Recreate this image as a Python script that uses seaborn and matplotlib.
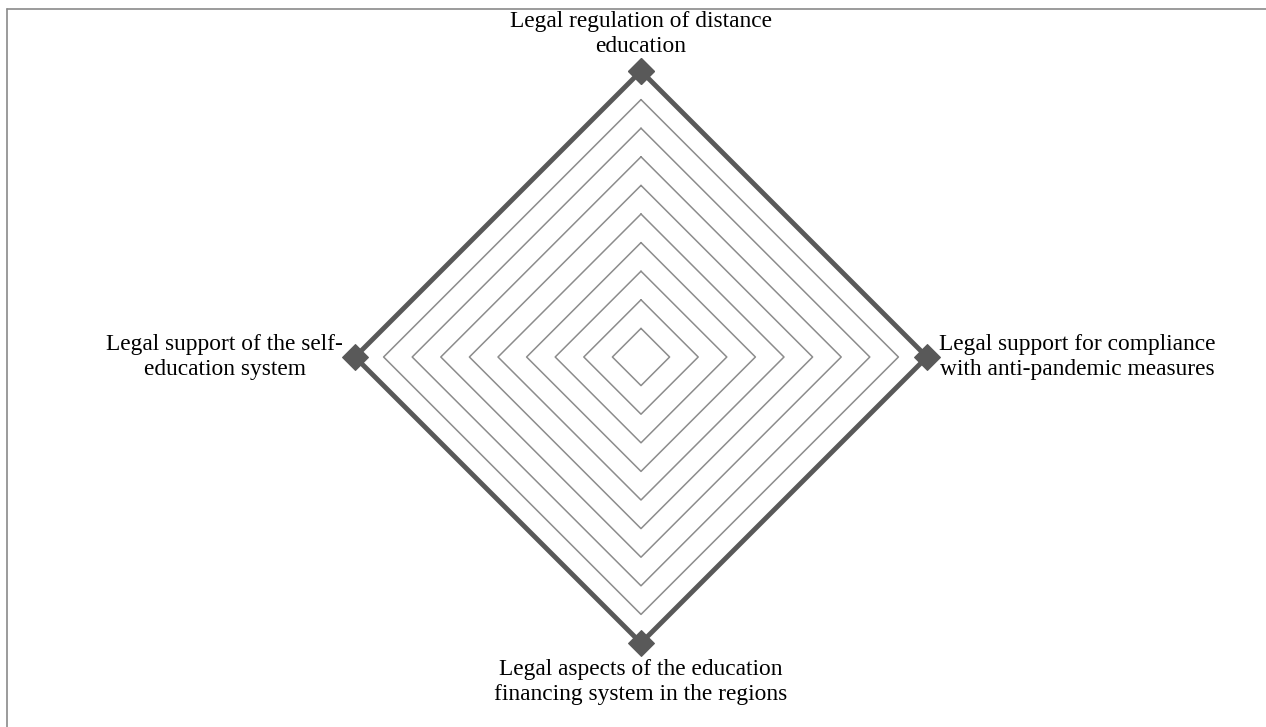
import numpy as np
import pandas as pd
import matplotlib
matplotlib.use("Agg")
import matplotlib.pyplot as plt
from matplotlib.lines import Line2D
import seaborn as sns

# axes of the radar, clockwise from the top
categories = ["Legal regulation of distance\neducation",
              "Legal support for compliance\nwith anti-pandemic measures",
              "Legal aspects of the education\nfinancing system in the regions",
              "Legal support of the self-\neducation system"]
values = [10, 10, 10, 10]
levels = [1, 2, 3, 4, 5, 6, 7, 8, 9, 10]

sns.set_theme(style="white")
plt.rcParams['font.family'] = ['Liberation Serif', 'DejaVu Serif']

W, H = 1266, 727
fig = plt.figure(figsize=(W / 100, H / 100), dpi=100)
cx, cy, half = 641, 727 - 357, 300
ax = fig.add_axes([(cx - half) / W, (cy - half) / H, 2 * half / W, 2 * half / H])

ang = np.pi / 2 - np.arange(len(categories)) * 2 * np.pi / len(categories)

# grid rings (diamonds)
rows = []
for lv in levels:
    for i in list(range(len(categories))) + [0]:
        rows.append({"ring": lv, "x": lv * np.cos(ang[i]), "y": lv * np.sin(ang[i])})
rings = pd.DataFrame(rows)
sns.lineplot(data=rings, x="x", y="y", units="ring", estimator=None, sort=False,
             color="#8c8c8c", linewidth=1.1, ax=ax)

# the series
v = np.array(values + values[:1], dtype=float)
a = np.concatenate([ang, ang[:1]])
ser = pd.DataFrame({"x": v * np.cos(a), "y": v * np.sin(a)})
sns.lineplot(data=ser, x="x", y="y", sort=False, estimator=None, color="#595959",
             linewidth=3.5, marker="D", markersize=13, markeredgecolor="#595959", ax=ax)

# category labels
offs = [((0, 14), "center", "bottom"), ((12, 0), "left", "center"),
        ((0, -16), "center", "top"), ((-12, 0), "right", "center")]
for i, lab in enumerate(categories):
    (dx, dy), ha, va = offs[i]
    ax.annotate(lab, (values[i] * np.cos(ang[i]), values[i] * np.sin(ang[i])),
                xytext=(dx, dy), textcoords="offset pixels", ha=ha, va=va,
                multialignment="center", fontsize=16.8, color="black",
                linespacing=1.26)

lim = 10 * half / 286
ax.set_xlim(-lim, lim)
ax.set_ylim(-lim, lim)
ax.set_axis_off()

# chart area border (cut at right/bottom)
x0, y0 = 6.5 / W, 1 - 9 / H
fig.add_artist(Line2D([x0, 1], [y0, y0], color="#8a8a8a", lw=1.2))
fig.add_artist(Line2D([x0, x0], [0, y0], color="#8a8a8a", lw=1.2))

fig.savefig("out.png", dpi=100)
